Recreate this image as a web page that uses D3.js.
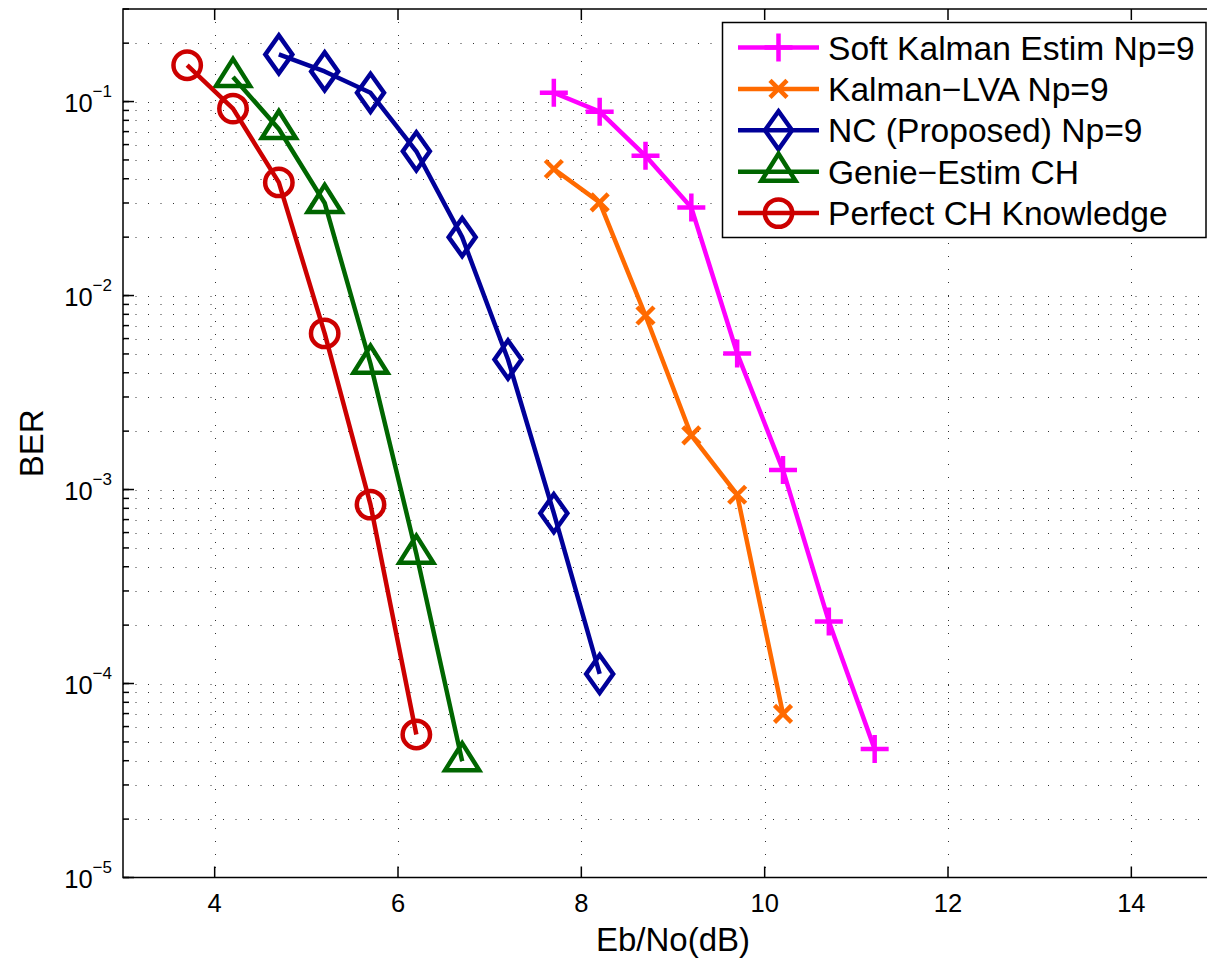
<!DOCTYPE html>
<html>
<head>
<meta charset="utf-8">
<script src="https://cdn.jsdelivr.net/npm/d3@7"></script>
<style>
  body { margin: 0; background: #fff; }
  svg { display: block; font-family: "Liberation Sans", Arial, Helvetica, sans-serif; }
</style>
</head>
<body>
<svg id="chart" width="1207" height="959"></svg>
<script>
// Eb/No (dB) and BER, one pair of arrays per curve
const snrSoftKalman = [7.7, 8.2, 8.7, 9.2, 9.7, 10.2, 10.7, 11.2];
const berSoftKalman = [0.111, 0.0887, 0.0525, 0.0284, 0.00503, 0.00126, 0.000209, 0.0000459];

const snrKalmanLva = [7.7, 8.2, 8.7, 9.2, 9.7, 10.2];
const berKalmanLva = [0.0449, 0.0302, 0.00789, 0.0019, 0.00094, 0.0000697];

const snrNc = [4.7, 5.2, 5.7, 6.2, 6.7, 7.2, 7.7, 8.2];
const berNc = [0.175, 0.143, 0.111, 0.0554, 0.02, 0.00468, 0.000755, 0.000112];

const snrGenie = [4.2, 4.7, 5.2, 5.7, 6.2, 6.7];
const berGenie = [0.134, 0.0722, 0.03, 0.00445, 0.000467, 0.0000398];

const snrPerfect = [3.7, 4.2, 4.7, 5.2, 5.7, 6.2];
const berPerfect = [0.154, 0.092, 0.0383, 0.00638, 0.000836, 0.0000546];

const legendLabels = [
  'Soft Kalman Estim Np=9',
  'Kalman\u2212LVA Np=9',
  'NC (Proposed) Np=9',
  'Genie\u2212Estim CH',
  'Perfect CH Knowledge'
];

const xTicks = [4, 6, 8, 10, 12, 14];
const yTickExponents = [-5, -4, -3, -2, -1];

// plot setup
const svg = d3.select('#chart');
const plotLeft = 123, plotTop = 9, plotRight = 1223, plotBottom = 877.5;

const x = d3.scaleLinear().domain([3, 15]).range([plotLeft, plotRight]);
const y = d3.scaleLog().domain([1e-5, 0.3]).range([plotBottom, plotTop]);

const series = [
  { name: legendLabels[0], xs: snrSoftKalman, ys: berSoftKalman, color: '#ff00ff', marker: 'plus' },
  { name: legendLabels[1], xs: snrKalmanLva, ys: berKalmanLva, color: '#ff6a00', marker: 'cross' },
  { name: legendLabels[2], xs: snrNc, ys: berNc, color: '#000099', marker: 'diamond' },
  { name: legendLabels[3], xs: snrGenie, ys: berGenie, color: '#006600', marker: 'triangle' },
  { name: legendLabels[4], xs: snrPerfect, ys: berPerfect, color: '#cc0000', marker: 'circle' }
];

svg.append('rect').attr('width', 1207).attr('height', 959).attr('fill', '#fff');

// minor log ticks: 1..9 x 10^e, plus 0.2 and 0.3 in the top decade
const yMinor = [];
for (let e = -5; e <= -2; e++) {
  for (let k = 1; k <= 9; k++) yMinor.push(k * Math.pow(10, e));
}
yMinor.push(0.1, 0.2, 0.3);

// dotted grid
const grid = svg.append('g').attr('stroke', '#000').attr('stroke-width', 1);
grid.selectAll('.hgrid')
  .data(yMinor.filter((v) => v > 1e-5 && v < 0.3))
  .enter()
  .append('line')
  .attr('x1', plotLeft).attr('x2', plotRight)
  .attr('y1', (d) => Math.round(y(d)) + 0.5)
  .attr('y2', (d) => Math.round(y(d)) + 0.5)
  .attr('stroke-dasharray', '1,11.5')
  .attr('opacity', 0.8);
grid.selectAll('.vgrid')
  .data(xTicks)
  .enter()
  .append('line')
  .attr('x1', (d) => Math.round(x(d)) + 0.5)
  .attr('x2', (d) => Math.round(x(d)) + 0.5)
  .attr('y1', plotTop).attr('y2', plotBottom)
  .attr('stroke-dasharray', '1,12')
  .attr('opacity', 0.8);

// axes box and inward ticks
const axes = svg.append('g').attr('stroke', '#000').attr('stroke-width', 1.5).attr('fill', 'none');
axes.append('rect')
  .attr('x', plotLeft).attr('y', plotTop)
  .attr('width', plotRight - plotLeft).attr('height', plotBottom - plotTop);

axes.selectAll('.xtb')
  .data(xTicks)
  .enter()
  .append('line')
  .attr('x1', (d) => x(d)).attr('x2', (d) => x(d))
  .attr('y1', plotBottom).attr('y2', plotBottom - 11);
axes.selectAll('.xtt')
  .data(xTicks)
  .enter()
  .append('line')
  .attr('x1', (d) => x(d)).attr('x2', (d) => x(d))
  .attr('y1', plotTop).attr('y2', plotTop + 11);

axes.selectAll('.ytmin')
  .data(yMinor)
  .enter()
  .append('line')
  .attr('x1', plotLeft).attr('x2', plotLeft + 6)
  .attr('y1', (d) => y(d)).attr('y2', (d) => y(d));
axes.selectAll('.ytmaj')
  .data(yTickExponents)
  .enter()
  .append('line')
  .attr('x1', plotLeft).attr('x2', plotLeft + 11)
  .attr('y1', (d) => y(Math.pow(10, d))).attr('y2', (d) => y(Math.pow(10, d)));

// tick labels
svg.append('g')
  .selectAll('text')
  .data(xTicks)
  .enter()
  .append('text')
  .attr('x', (d) => x(d))
  .attr('y', 912)
  .attr('text-anchor', 'middle')
  .attr('font-size', 25.5)
  .text((d) => d);

const yLabels = svg.append('g')
  .selectAll('text')
  .data(yTickExponents)
  .enter()
  .append('text')
  .attr('x', 112)
  .attr('y', (d) => y(Math.pow(10, d)) + 10.7)
  .attr('text-anchor', 'end')
  .attr('font-size', 25.5);
yLabels.append('tspan').text('10');
yLabels.append('tspan')
  .attr('dy', -15)
  .attr('font-size', 17)
  .text((d) => '\u2212' + Math.abs(d));

// axis titles
svg.append('text')
  .attr('x', (plotLeft + plotRight) / 2)
  .attr('y', 951)
  .attr('text-anchor', 'middle')
  .attr('font-size', 33)
  .text('Eb/No(dB)');
svg.append('text')
  .attr('transform', `translate(43,${(plotTop + plotBottom) / 2}) rotate(-90)`)
  .attr('text-anchor', 'middle')
  .attr('font-size', 33)
  .text('BER');

// marker shapes
function drawMarker(sel, kind, color) {
  if (kind === 'circle') {
    sel.append('circle').attr('r', 13.7);
  } else {
    const paths = {
      plus: 'M-14,0H14M0,-14V14',
      cross: 'M-8.5,-8.5L8.5,8.5M-8.5,8.5L8.5,-8.5',
      diamond: 'M0,-19L13.5,0L0,19L-13.5,0Z',
      triangle: 'M0,-18L17,9L-17,9Z'
    };
    sel.append('path').attr('d', paths[kind]);
  }
  sel.attr('fill', 'none').attr('stroke', color).attr('stroke-width', 4.5);
}

const line = d3.line().x((d) => x(d[0])).y((d) => y(d[1]));

series.forEach((s) => {
  const pts = s.xs.map((v, i) => [v, s.ys[i]]);
  const g = svg.append('g');
  g.append('path')
    .datum(pts)
    .attr('d', line)
    .attr('fill', 'none')
    .attr('stroke', s.color)
    .attr('stroke-width', 4.5)
    .attr('stroke-linejoin', 'round');
  g.selectAll('.m')
    .data(pts)
    .enter()
    .append('g')
    .attr('transform', (d) => `translate(${x(d[0])},${y(d[1])})`)
    .each(function () { drawMarker(d3.select(this), s.marker, s.color); });
});

// legend
const legend = svg.append('g');
legend.append('rect')
  .attr('x', 722.5).attr('y', 22.5)
  .attr('width', 483.5).attr('height', 215)
  .attr('fill', '#fff')
  .attr('stroke', '#000')
  .attr('stroke-width', 1.5);

const rows = legend.selectAll('.legend-element')
  .data(series)
  .enter()
  .append('g')
  .attr('class', 'legend-element')
  .attr('transform', (d, i) => `translate(0,${47.5 + i * 41.4})`);

rows.append('line')
  .attr('x1', 738).attr('x2', 819)
  .attr('stroke', (d) => d.color)
  .attr('stroke-width', 4.5);
rows.append('g')
  .attr('transform', 'translate(778.5,0)')
  .each(function (d) { drawMarker(d3.select(this), d.marker, d.color); });
rows.append('text')
  .attr('x', 828)
  .attr('y', 12)
  .attr('font-size', 33.6)
  .text((d) => d.name);
</script>
</body>
</html>
